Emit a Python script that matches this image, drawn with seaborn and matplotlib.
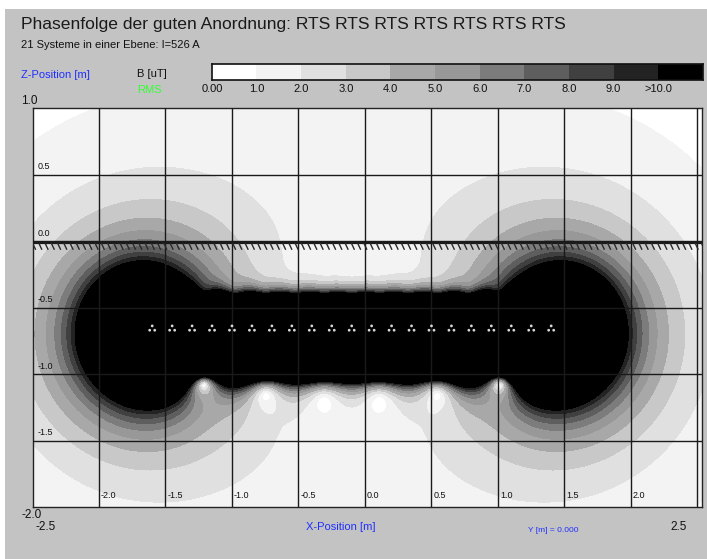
import numpy as np
import pandas as pd
import matplotlib
matplotlib.use("Agg")
import matplotlib.pyplot as plt
import seaborn as sns
from matplotlib.colors import ListedColormap
from matplotlib.patches import Rectangle
from matplotlib.collections import LineCollection

# --- data ---
current_a = 526.0                      # RMS current per conductor
system_x = [-1.60, -1.45, -1.30, -1.15, -1.00, -0.85, -0.70, -0.55, -0.40, -0.25, -0.10,
            0.05, 0.20, 0.35, 0.50, 0.65, 0.80, 0.95, 1.10, 1.25, 1.40]
system_z = -0.66                       # depth of the cable plane
phase_seq = list("RTS" * 7)            # phase of reference conductor per system (from title)
phase_deg = {"R": 0.0, "T": -120.0, "S": -240.0}
trefoil_dx = [0.0, -0.019, 0.019]      # top, bottom-left, bottom-right
trefoil_dz = [0.0216, -0.0108, -0.0108]

levels = [0, 1, 2, 3, 4, 5, 6, 7, 8, 9, 10, 1e6]
level_labels = ["0.00", "1.0", "2.0", "3.0", "4.0", "5.0", "6.0", "7.0", "8.0", "9.0", ">10.0"]
level_colors = ["#ffffff", "#f3f3f3", "#e0e0e0", "#c8c8c8", "#a8a8a8", "#989898",
                "#7c7c7c", "#5e5e5e", "#404040", "#232323", "#000000"]
x_grid = [-2.0, -1.5, -1.0, -0.5, 0.0, 0.5, 1.0, 1.5, 2.0, 2.5]
z_grid = [-1.5, -1.0, -0.5, 0.0, 0.5]

# --- conductor table ---
rows = []
for k, (sx, ph) in enumerate(zip(system_x, phase_seq)):
    for j in range(3):
        rows.append({"x": sx + trefoil_dx[j], "z": system_z + trefoil_dz[j],
                     "phase": phase_deg[ph] - 120.0 * j})
cond = pd.DataFrame(rows)

# --- RMS flux density on a grid (Biot-Savart, line currents) ---
gx = np.linspace(-2.5, 2.54, 760)
gz = np.linspace(-2.0, 1.0, 460)
X, Z = np.meshgrid(gx, gz)
Bx = np.zeros_like(X, dtype=complex)
Bz = np.zeros_like(X, dtype=complex)
for _, c in cond.iterrows():
    I = current_a * np.exp(1j * np.deg2rad(c["phase"]))
    dx = X - c["x"]
    dz = Z - c["z"]
    r2 = dx ** 2 + dz ** 2 + 1e-9
    Bx += I * (-dz) / r2
    Bz += I * dx / r2
B = 0.2 * np.sqrt(np.abs(Bx) ** 2 + np.abs(Bz) ** 2)   # 2e-7 T*m/A -> uT
B = np.minimum(B, 1e5)

# --- figure ---
sns.set_theme(style="white")
plt.rcParams["font.family"] = ["Liberation Sans", "DejaVu Sans"]
small_font = ["Liberation Sans Narrow", "Liberation Sans", "DejaVu Sans"]

W, H = 707, 559
fig = plt.figure(figsize=(W / 100, H / 100), dpi=100)
fig.patch.set_facecolor("white")
fig.add_artist(Rectangle((5 / W, 0), 1, 1 - 9 / H, transform=fig.transFigure,
                         facecolor="#c3c3c3", edgecolor="none", zorder=-10))

ax = fig.add_axes([32.5 / W, (H - 507) / H, 669.5 / W, 399 / H])
cmap = ListedColormap(level_colors)
ax.contourf(X, Z, B, levels=levels, colors=level_colors, antialiased=False)
ax.set_xlim(-2.5, 2.534)
ax.set_ylim(-2.0, 1.0)
ax.set_xticks([])
ax.set_yticks([])
for s in ax.spines.values():
    s.set_color("#222222")
    s.set_linewidth(1.0)

for x in x_grid:
    ax.axvline(x, color="#1a1a1a", lw=1.0, zorder=3)
for z in z_grid:
    ax.axhline(z, color="#1a1a1a", lw=1.0, zorder=3)

# ground surface with hatch
ax.plot([-2.5, 2.534], [-0.012, -0.012], color="#1a1a1a", lw=1.6, zorder=4)
hx = np.arange(-2.5, 2.53, 0.047)
segs = [[(h, -0.015), (h + 0.024, -0.066)] for h in hx]
ax.add_collection(LineCollection(segs, colors="#2a2a2a", linewidths=1.0, zorder=4))

# cable conductors
sns.scatterplot(data=cond, x="x", y="z", ax=ax, color="#d8d8d8", s=4,
                marker="o", edgecolor="none", legend=False, zorder=5)
ax.set_xlabel("")
ax.set_ylabel("")

# inner tick labels
for z in [0.5, 0.0, -0.5, -1.0, -1.5]:
    ax.text(-2.465, z + 0.025, f"{z:.1f}", fontsize=6.5, family=small_font,
            va="bottom", ha="left", color="#111111", zorder=6)
for x in x_grid[:-1]:
    ax.text(x + 0.015, -1.915, f"{x:.1f}", fontsize=6.5, family=small_font,
            va="center", ha="left", color="#111111", zorder=6)

# colour bar
cax = fig.add_axes([212 / W, (H - 80) / H, 491 / W, 16 / H])
cax.imshow(np.arange(11)[None, :], cmap=cmap, aspect="auto", extent=(0, 11, 0, 1),
           interpolation="nearest")
cax.set_xticks([])
cax.set_yticks([])
for s in cax.spines.values():
    s.set_color("#111111")
    s.set_linewidth(1.2)
for k, lab in enumerate(level_labels):
    fig.text((212 + 44.6 * k) / W, 1 - 89 / H, lab, fontsize=8, family=small_font,
             ha="center", va="center", color="#111111")

# texts
fig.text(21 / W, 1 - 25 / H, "Phasenfolge der guten Anordnung: RTS RTS RTS RTS RTS RTS RTS",
         fontsize=12.6, ha="left", va="center", color="#1a1a1a")
fig.text(21 / W, 1 - 45 / H, "21 Systeme in einer Ebene: I=526 A", fontsize=8,
         family=small_font, ha="left", va="center", color="#111111")
fig.text(21 / W, 1 - 75 / H, "Z-Position [m]", fontsize=8, family=small_font,
         ha="left", va="center", color="#2030ff")
fig.text(137 / W, 1 - 74 / H, "B [uT]", fontsize=8, family=small_font,
         ha="left", va="center", color="#111111")
fig.text(137 / W, 1 - 90 / H, "RMS", fontsize=8, family=small_font,
         ha="left", va="center", color="#33ff33")
fig.text(21 / W, 1 - 101 / H, "1.0", fontsize=8.5, ha="left", va="center", color="#111111")
fig.text(21 / W, 1 - 515 / H, "-2.0", fontsize=8.5, ha="left", va="center", color="#111111")
fig.text(36 / W, 1 - 527 / H, "-2.5", fontsize=8.5, ha="left", va="center", color="#111111")
fig.text(341 / W, 1 - 527 / H, "X-Position [m]", fontsize=8, family=small_font,
         ha="center", va="center", color="#2030ff")
fig.text(553 / W, 1 - 531 / H, "Y [m] = 0.000", fontsize=6, family=small_font,
         ha="center", va="center", color="#2030ff")
fig.text(670 / W, 1 - 527 / H, "2.5", fontsize=8.5, ha="left", va="center", color="#111111")

fig.savefig("out.png", dpi=100, facecolor=fig.get_facecolor())
